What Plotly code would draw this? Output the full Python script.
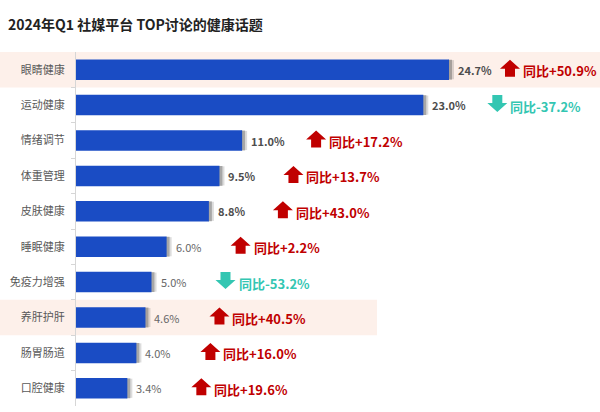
import plotly.graph_objects as go

categories = ["眼睛健康", "运动健康", "情绪调节", "体重管理", "皮肤健康",
              "睡眠健康", "免疫力增强", "养肝护肝", "肠胃肠道", "口腔健康"]
shares = [24.7, 23.0, 11.0, 9.5, 8.8, 6.0, 5.0, 4.6, 4.0, 3.4]
yoy = [50.9, -37.2, 17.2, 13.7, 43.0, 2.2, -53.2, 40.5, 16.0, 19.6]
highlight_rows = ["眼睛健康", "养肝护肝"]

BLUE = "#1a4cc4"
RED = "#c00000"
TEAL = "#33c6b2"
BAND = "#fdf0ea"
FONT = "Noto Sans CJK SC, Noto Sans, sans-serif"

W, H = 600, 412
ML, MR, MT, MB = 76, 0, 52, 6
XMAX = 34.7
PX_PER_UNIT = (W - ML - MR) / XMAX

idx = list(range(len(categories)))

fig = go.Figure()
fig.add_trace(go.Bar(
    x=shares, y=idx, orientation="h", width=0.58,
    marker=dict(color=BLUE, line=dict(width=0)),
    hoverinfo="skip",
))

shapes = []
annotations = []

# highlight bands
band_ends = {"眼睛健康": W - ML, "养肝护肝": 301}
for cat in highlight_rows:
    i = categories.index(cat)
    shapes.append(dict(type="rect", xref="paper", yref="y", xsizemode="pixel", xanchor=0,
                       x0=-ML, x1=band_ends[cat], y0=i - 0.5, y1=i + 0.5,
                       fillcolor=BAND, line=dict(width=0), layer="below"))

ARROW_OFF = 74
ARROW_MAX_PX = 510 - ML  # keep the last badge inside the frame
up_path = "M {a},-7 L {b},-7 L {b},1 L {c},1 L {m},10 L {d},1 L {a},1 Z"
down_path = "M {a},10 L {b},10 L {b},2 L {c},2 L {m},-7 L {d},2 L {a},2 Z"

for i, (v, g) in enumerate(zip(shares, yoy)):
    # shadow
    shapes.append(dict(type="rect", xref="x", yref="y", xsizemode="pixel", xanchor=v,
                       x0=-1, x1=3, y0=i - 0.28, y1=i + 0.28,
                       fillcolor="rgba(60,60,60,0.45)", line=dict(width=0), layer="below"))
    shapes.append(dict(type="rect", xref="x", yref="y", xsizemode="pixel", xanchor=v,
                       x0=3, x1=5, y0=i - 0.27, y1=i + 0.27,
                       fillcolor="rgba(60,60,60,0.18)", line=dict(width=0), layer="below"))
    # value label
    annotations.append(dict(x=v, y=i, xref="x", yref="y", xanchor="left", yanchor="middle",
                            xshift=7, showarrow=False, text=f"{v:.1f}%",
                            font=dict(family=FONT, size=11, color="#4d4d4d" if i < 5 else "#666666",
                                      weight="bold" if i < 5 else "normal")))
    up = g >= 0
    col = RED if up else TEAL
    m = min(ARROW_OFF, ARROW_MAX_PX - v * PX_PER_UNIT)
    p = (up_path if up else down_path).format(a=m - 5, b=m + 5, c=m + 10, d=m - 10, m=m)
    shapes.append(dict(type="path", xref="x", yref="y", xsizemode="pixel", ysizemode="pixel",
                       xanchor=v, yanchor=i, path=p, fillcolor=col, line=dict(width=0)))
    sign = "+" if up else "-"
    annotations.append(dict(x=v, y=i, xref="x", yref="y", xanchor="left", yanchor="middle",
                            xshift=m + 11, yshift=-1, showarrow=False,
                            text=f"同比{sign}{abs(g):.1f}%",
                            font=dict(family=FONT, size=13, color=col, weight="bold")))

fig.update_layout(
    width=W, height=H,
    margin=dict(l=ML, r=MR, t=MT, b=MB, autoexpand=False),
    paper_bgcolor="white", plot_bgcolor="rgba(0,0,0,0)",
    showlegend=False,
    title=dict(text="2024年Q1 社媒平台 TOP讨论的健康话题", x=8 / W, xanchor="left",
               y=1 - 25 / H, yanchor="middle", automargin=False,
               font=dict(family=FONT, size=14, color="#222222", weight="bold")),
    xaxis=dict(range=[0, XMAX], visible=False, fixedrange=True, automargin=False),
    yaxis=dict(range=[9.5, -0.5], tickmode="array", tickvals=idx, ticktext=categories,
               automargin=False,
               showgrid=False, zeroline=False, showline=True, linecolor="#d6d6d6", linewidth=1,
               ticks="", ticklabelstandoff=8,
               tickfont=dict(family=FONT, size=11, color="#595959"),
               minor=dict(tickmode="array", tickvals=[k + 0.5 for k in idx[:-1]],
                          ticks="outside", ticklen=4, tickcolor="#d6d6d6", showgrid=False),
               fixedrange=True),
    shapes=shapes, annotations=annotations,
)

fig.write_html("out.html", config={"displayModeBar": False},
               post_script="document.body.style.margin='0';")
